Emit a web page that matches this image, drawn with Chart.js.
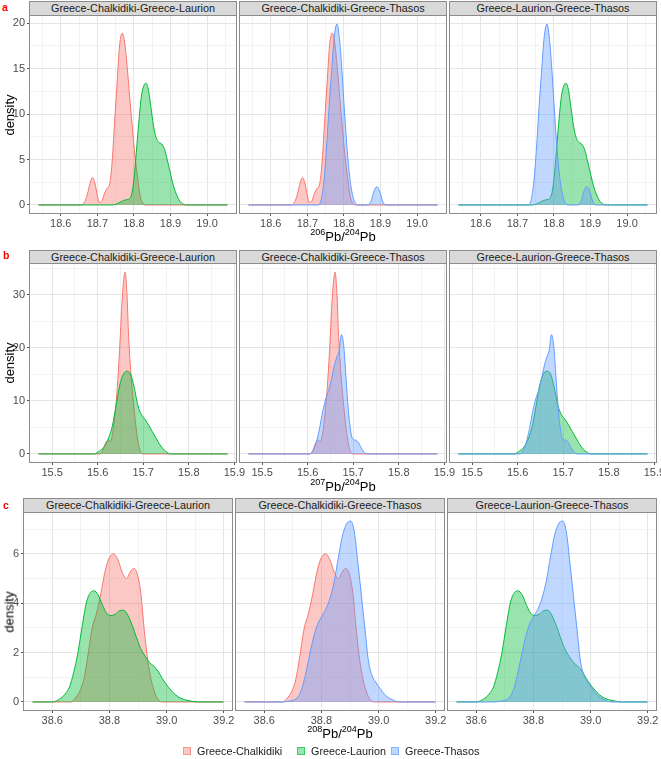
<!DOCTYPE html>
<html>
<head>
<meta charset="utf-8">
<script src="https://cdn.jsdelivr.net/npm/chart.js@4.4.1/dist/chart.umd.min.js"></script>
<style>
  body { margin: 0; background: #fff; font-family: "Liberation Sans", Arial, sans-serif; }
  #wrap { position: relative; width: 661px; height: 759px; overflow: hidden; background: #fff; }
  #wrap canvas { position: absolute; }
  .strip {
    position: absolute; box-sizing: border-box; background: #d9d9d9;
    border: 1px solid #8c8c8c; color: #1a1a1a; font-size: 10.8px; text-align: center;
  }
  .tag { position: absolute; color: #ff0000; font-weight: bold; font-size: 10.5px; line-height: 10px; }
  .ytitle {
    position: absolute; font-size: 13px; color: #000; white-space: nowrap;
    transform: translate(-50%, -50%) rotate(-90deg);
  }
  .xtitle { position: absolute; width: 200px; text-align: center; font-size: 13px; line-height: 13px; color: #000; }
  .xtitle .sup { font-size: 9px; position: relative; top: -6px; }
  .key { position: absolute; width: 8px; height: 8px; box-sizing: border-box; }
  .ktext { position: absolute; font-size: 10.8px; line-height: 11px; color: #1a1a1a; white-space: nowrap; }
</style>
</head>
<body>
<div id="wrap"></div>
<script>
// groups and facets
const regions = ['Greece-Chalkidiki', 'Greece-Laurion', 'Greece-Thasos'];
const colours = ['#F8766D', '#00BA38', '#619CFF'];
const facets = ['Greece-Chalkidiki-Greece-Laurion', 'Greece-Chalkidiki-Greece-Thasos', 'Greece-Laurion-Greece-Thasos'];
const facetPairs = [[0, 1], [0, 2], [1, 2]];

// 206Pb/204Pb densities
const pb206ChalkX = [18.539, 18.655, 18.665, 18.673, 18.680, 18.687, 18.694, 18.700, 18.706, 18.712, 18.719, 18.726, 18.733, 18.740, 18.747, 18.754, 18.761, 18.768, 18.775, 18.782, 18.789, 18.796, 18.803, 18.810, 18.817, 18.824, 18.832, 19.056];
const pb206ChalkY = [0, 0, 0.3, 1.2, 2.4, 3.0, 2.3, 1.0, 0.3, 0.4, 1.2, 1.8, 2.2, 4.5, 9.0, 13.4, 17.6, 18.9, 17.8, 15.0, 11.6, 8.4, 5.4, 3.0, 1.0, 0.2, 0, 0];
const pb206LaurX = [18.539, 18.740, 18.752, 18.762, 18.772, 18.782, 18.790, 18.796, 18.802, 18.808, 18.814, 18.820, 18.826, 18.833, 18.840, 18.847, 18.854, 18.861, 18.868, 18.876, 18.884, 18.891, 18.898, 18.905, 18.912, 18.919, 18.926, 18.934, 18.944, 19.056];
const pb206LaurY = [0, 0, 0.1, 0.3, 0.5, 0.6, 0.8, 1.6, 3.6, 6.5, 9.4, 11.8, 13.0, 13.4, 12.6, 10.6, 8.6, 7.4, 6.9, 6.7, 6.1, 5.0, 3.8, 2.6, 1.6, 0.9, 0.4, 0.1, 0, 0];
const pb206ThasX = [18.539, 18.730, 18.738, 18.745, 18.752, 18.759, 18.766, 18.773, 18.781, 18.788, 18.795, 18.802, 18.809, 18.816, 18.823, 18.830, 18.840, 18.866, 18.874, 18.882, 18.890, 18.898, 18.906, 18.914, 19.056];
const pb206ThasY = [0, 0, 0.6, 2.5, 6.0, 10.5, 14.5, 18.3, 19.9, 18.2, 14.5, 10.0, 6.0, 3.0, 1.2, 0.3, 0, 0, 0.4, 1.5, 2.0, 1.5, 0.4, 0, 0];

// 207Pb/204Pb densities
const pb207ChalkX = [15.470, 15.605, 15.612, 15.618, 15.623, 15.628, 15.633, 15.638, 15.643, 15.648, 15.653, 15.657, 15.660, 15.664, 15.668, 15.673, 15.678, 15.683, 15.688, 15.693, 15.698, 15.885];
const pb207ChalkY = [0, 0, 0.8, 2.2, 2.6, 2.3, 4.0, 7.5, 12.5, 19.5, 28.0, 32.8, 34.3, 30.5, 22.0, 15.0, 10.0, 5.8, 2.5, 0.6, 0, 0];
const pb207LaurX = [15.470, 15.592, 15.600, 15.608, 15.616, 15.624, 15.632, 15.640, 15.648, 15.656, 15.664, 15.672, 15.680, 15.688, 15.696, 15.704, 15.712, 15.720, 15.728, 15.736, 15.744, 15.752, 15.760, 15.885];
const pb207LaurY = [0, 0, 0.3, 0.8, 1.6, 3.0, 5.2, 8.9, 12.8, 15.0, 15.6, 15.1, 12.6, 9.2, 7.4, 6.5, 5.4, 4.2, 3.0, 1.8, 0.9, 0.3, 0, 0];
const pb207ThasX = [15.470, 15.605, 15.612, 15.619, 15.626, 15.633, 15.640, 15.646, 15.652, 15.658, 15.664, 15.669, 15.674, 15.679, 15.684, 15.689, 15.694, 15.699, 15.705, 15.711, 15.717, 15.723, 15.730, 15.885];
const pb207ThasY = [0, 0, 0.6, 2.2, 4.8, 8.0, 10.5, 12.0, 14.0, 16.5, 18.3, 19.5, 22.5, 20.5, 14.5, 8.5, 4.5, 2.8, 2.6, 2.2, 1.2, 0.4, 0, 0];

// 208Pb/204Pb densities
const pb208ChalkX = [38.531, 38.665, 38.680, 38.695, 38.710, 38.725, 38.740, 38.755, 38.770, 38.785, 38.800, 38.815, 38.830, 38.845, 38.860, 38.872, 38.885, 38.898, 38.910, 38.922, 38.934, 38.946, 38.958, 38.970, 38.985, 39.199];
const pb208ChalkY = [0, 0, 0.15, 0.4, 0.9, 1.9, 3.0, 3.6, 4.4, 5.3, 5.85, 6.0, 5.75, 5.25, 5.0, 5.25, 5.42, 5.15, 4.4, 2.9, 1.7, 0.9, 0.4, 0.1, 0, 0];
const pb208LaurX = [38.531, 38.600, 38.615, 38.630, 38.645, 38.660, 38.675, 38.690, 38.705, 38.720, 38.735, 38.746, 38.760, 38.775, 38.790, 38.805, 38.820, 38.835, 38.850, 38.865, 38.880, 38.895, 38.910, 38.925, 38.940, 38.955, 38.970, 38.985, 39.000, 39.015, 39.030, 39.050, 39.075, 39.110, 39.199];
const pb208LaurY = [0, 0, 0.05, 0.15, 0.32, 0.6, 1.2, 2.0, 3.1, 4.05, 4.45, 4.5, 4.35, 3.95, 3.6, 3.5, 3.55, 3.7, 3.72, 3.5, 3.1, 2.6, 2.15, 1.85, 1.6, 1.45, 1.25, 0.95, 0.7, 0.48, 0.3, 0.15, 0.06, 0, 0];
const pb208ThasX = [38.531, 38.660, 38.690, 38.710, 38.725, 38.740, 38.755, 38.770, 38.785, 38.800, 38.815, 38.830, 38.845, 38.860, 38.875, 38.890, 38.902, 38.915, 38.928, 38.940, 38.952, 38.964, 38.976, 38.990, 39.005, 39.020, 39.035, 39.050, 39.070, 39.199];
const pb208ThasY = [0, 0, 0.04, 0.12, 0.35, 0.9, 1.7, 2.5, 3.1, 3.45, 3.75, 4.2, 4.9, 5.9, 6.8, 7.25, 7.33, 6.9, 5.6, 4.3, 3.0, 1.7, 1.1, 0.8, 0.55, 0.32, 0.17, 0.08, 0, 0];

// tick labels (major) and minor grid breaks
const pb206Ticks = [18.6, 18.7, 18.8, 18.9, 19.0];
const pb206Minor = [18.55, 18.65, 18.75, 18.85, 18.95, 19.05];
const pb207Ticks = [15.5, 15.6, 15.7, 15.8, 15.9];
const pb207Minor = [15.45, 15.55, 15.65, 15.75, 15.85];
const pb208Ticks = [38.6, 38.8, 39.0, 39.2];
const pb208Minor = [38.5, 38.7, 38.9, 39.1];
const densTicksA = [0, 5, 10, 15, 20];
const densMinorA = [2.5, 7.5, 12.5, 17.5];
const densTicksB = [0, 10, 20, 30];
const densMinorB = [5, 15, 25, 35];
const densTicksC = [0, 2, 4, 6];
const densMinorC = [1, 3, 5, 7];

const rows = [
  { tag: 'a', iso: '206', xs: [pb206ChalkX, pb206LaurX, pb206ThasX], ys: [pb206ChalkY, pb206LaurY, pb206ThasY],
    xTicks: pb206Ticks, xMinor: pb206Minor, yTicks: densTicksA, yMinor: densMinorA,
    stripTop: 1, plotTop: 15, plotH: 199, lefts: [29, 239, 449], panelW: 208, tagPos: [2, 2], titleTop: 230 },
  { tag: 'b', iso: '207', xs: [pb207ChalkX, pb207LaurX, pb207ThasX], ys: [pb207ChalkY, pb207LaurY, pb207ThasY],
    xTicks: pb207Ticks, xMinor: pb207Minor, yTicks: densTicksB, yMinor: densMinorB,
    stripTop: 250, plotTop: 263, plotH: 200, lefts: [29, 239, 449], panelW: 208, tagPos: [3, 250], titleTop: 480 },
  { tag: 'c', iso: '208', xs: [pb208ChalkX, pb208LaurX, pb208ThasX], ys: [pb208ChalkY, pb208LaurY, pb208ThasY],
    xTicks: pb208Ticks, xMinor: pb208Minor, yTicks: densTicksC, yMinor: densMinorC,
    stripTop: 498, plotTop: 512, plotH: 199, lefts: [23, 235, 447], panelW: 210, tagPos: [3, 500], titleTop: 727 }
];

Chart.defaults.font.family = '"Liberation Sans", Arial, sans-serif';
const wrap = document.getElementById('wrap');

function withAlpha(hex, a) {
  const n = parseInt(hex.slice(1), 16);
  return 'rgba(' + (n >> 16) + ',' + ((n >> 8) & 255) + ',' + (n & 255) + ',' + a + ')';
}
const isIn = (v, list) => list.some(m => Math.abs(m - v) < 1e-6);

// panel border drawn over the data, like ggplot
const panelBorder = {
  id: 'panelBorder',
  afterDraw(chart) {
    const { ctx, chartArea: a } = chart;
    ctx.save();
    ctx.strokeStyle = '#8c8c8c';
    ctx.lineWidth = 1;
    ctx.strokeRect(a.left + 0.5, a.top + 0.5, a.right - a.left - 1, a.bottom - a.top - 1);
    ctx.restore();
  }
};

function addDiv(cls, css, html) {
  const d = document.createElement('div');
  d.className = cls;
  Object.assign(d.style, css);
  d.innerHTML = html;
  wrap.appendChild(d);
  return d;
}

function makePanel(row, col) {
  const left0 = row.lefts[col];
  const yW = col === 0 ? left0 : 0;
  const padR = 10, xH = 20;

  // x and y limits: data range expanded by 5% (ggplot default)
  const allX = row.xs.flat(), allY = row.ys.flat();
  const xLo = Math.min(...allX), xHi = Math.max(...allX);
  const yHi = Math.max(...allY);
  const xMin = xLo - 0.05 * (xHi - xLo), xMax = xHi + 0.05 * (xHi - xLo);
  const yMin = -0.05 * yHi, yMax = 1.05 * yHi;

  const xAll = row.xTicks.concat(row.xMinor).sort((p, q) => p - q);
  const yAll = row.yTicks.concat(row.yMinor).sort((p, q) => p - q);

  const canvas = document.createElement('canvas');
  canvas.width = yW + row.panelW + padR;
  canvas.height = row.plotH + xH;
  canvas.style.left = (left0 - yW) + 'px';
  canvas.style.top = row.plotTop + 'px';
  wrap.appendChild(canvas);

  const datasets = facetPairs[col].map(g => ({
    label: regions[g],
    data: row.xs[g].map((x, i) => ({ x: x, y: row.ys[g][i] })),
    borderColor: colours[g],
    backgroundColor: withAlpha(colours[g], 0.4),
    borderWidth: 1,
    fill: 'origin',
    pointRadius: 0,
    cubicInterpolationMode: 'monotone',
    order: 3 - g
  }));

  const gridColor = list => ctx => (ctx.tick && isIn(ctx.tick.value, list)) ? '#e5e5e5' : '#f3f3f3';
  const tickColor = list => ctx => (ctx.tick && isIn(ctx.tick.value, list)) ? '#555555' : 'rgba(0,0,0,0)';

  new Chart(canvas, {
    type: 'line',
    data: { datasets: datasets },
    plugins: [panelBorder],
    options: {
      responsive: false,
      animation: false,
      devicePixelRatio: 1,
      layout: { padding: { left: 0, right: padR, top: 0, bottom: 0 } },
      plugins: { legend: { display: false }, tooltip: { enabled: false } },
      scales: {
        x: {
          type: 'linear', min: xMin, max: xMax,
          afterBuildTicks: s => { s.ticks = xAll.map(v => ({ value: v })); },
          afterFit: s => { s.height = xH; s.paddingLeft = 0; s.paddingRight = 0; },
          ticks: {
            autoSkip: false, maxRotation: 0, padding: 1, color: '#4d4d4d', font: { size: 11 },
            callback: v => isIn(v, row.xTicks) ? v.toFixed(1) : ''
          },
          grid: { color: gridColor(row.xTicks), lineWidth: 1, tickLength: 2, tickColor: tickColor(row.xTicks) },
          border: { display: false }
        },
        y: {
          type: 'linear', min: yMin, max: yMax,
          afterBuildTicks: s => { s.ticks = yAll.map(v => ({ value: v })); },
          afterFit: s => { s.width = yW; s.paddingTop = 0; s.paddingBottom = 0; },
          ticks: {
            display: col === 0, padding: 2, color: '#4d4d4d', font: { size: 11 },
            callback: v => isIn(v, row.yTicks) ? String(v) : ''
          },
          grid: { color: gridColor(row.yTicks), lineWidth: 1, drawTicks: col === 0, tickLength: 2, tickColor: tickColor(row.yTicks) },
          border: { display: false }
        }
      }
    }
  });

  // facet strip
  const stripH = row.plotTop - row.stripTop + 1;
  addDiv('strip', {
    left: left0 + 'px', top: row.stripTop + 'px', width: row.panelW + 'px',
    height: stripH + 'px', lineHeight: (stripH - 2) + 'px'
  }, facets[col]);
}

rows.forEach(row => {
  [0, 1, 2].forEach(col => makePanel(row, col));
  const last = row.lefts[2] + row.panelW;
  const cx = (row.lefts[0] + last) / 2;
  addDiv('tag', { left: row.tagPos[0] + 'px', top: row.tagPos[1] + 'px' }, row.tag);
  addDiv('ytitle', { left: '9px', top: (row.plotTop + row.plotH / 2) + 'px' }, 'density');
  addDiv('xtitle', { left: (cx - 100) + 'px', top: row.titleTop + 'px' },
    '<span class="sup">' + row.iso + '</span>Pb/<span class="sup">204</span>Pb');
});

// legend
const keyLefts = [183, 297, 391];
regions.forEach((r, g) => {
  addDiv('key', {
    left: keyLefts[g] + 'px', top: '747px',
    background: withAlpha(colours[g], 0.4), border: '1px solid ' + withAlpha(colours[g], 0.6)
  }, '');
  addDiv('ktext', { left: (keyLefts[g] + 14) + 'px', top: '746px' }, r);
});
</script>
</body>
</html>
